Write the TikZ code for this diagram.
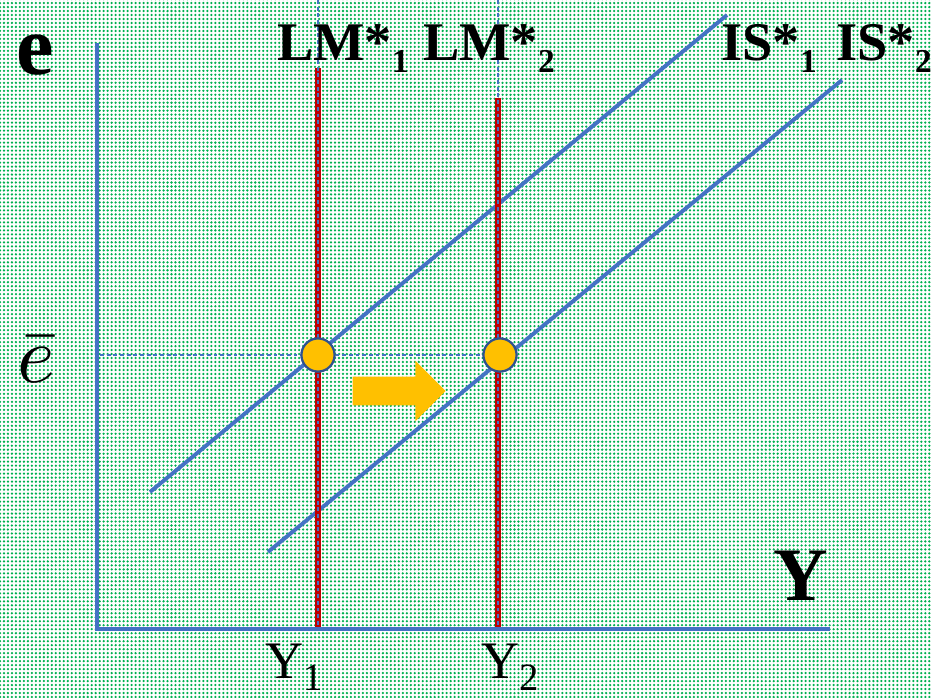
\documentclass[tikz,border=0pt]{standalone}
\usepackage{fontspec}
\setmainfont{Liberation Serif}
\usetikzlibrary{positioning,patterns.meta,shapes.arrows}
\definecolor{axisblue}{HTML}{4472C4}
\definecolor{lmred}{HTML}{C00000}
\definecolor{dotgreen}{HTML}{00B050}
\definecolor{eqyellow}{HTML}{FFC000}
\definecolor{eqedge}{HTML}{2F528F}
\newcommand{\subdn}[3]{\raisebox{#1}{\fontsize{#2}{#2}\selectfont #3}}

\begin{document}
\begin{tikzpicture}[
  x=0.02cm, y=-0.02cm,
  every node/.style={inner sep=0pt, anchor=base},
  axis/.style={draw=axisblue, line width=2.3pt},
  isline/.style={draw=axisblue, line width=2.2pt},
  lmline/.style={draw=lmred, line width=2.9pt},
  guide/.style={draw=axisblue, line width=0.7pt, dash pattern=on 2.2pt off 1.6pt},
  eq/.style={circle, anchor=center, fill=eqyellow, draw=eqedge, line width=1.2pt, minimum size=0.66cm},
  curvelbl/.style={font=\fontsize{31}{34}\selectfont\bfseries}
]
  % dotted background
  \fill[white] (0,0) rectangle (932,697);
  \fill[pattern={Dots[distance=2.27pt,radius=0.72pt]}, pattern color=dotgreen] (0,0) rectangle (932,697);
  \useasboundingbox (0,0) rectangle (932,697);

  \coordinate (O) at (97,629);
  \coordinate (ytop) at (97,43);
  \coordinate (xend) at (830,629);
  \coordinate (ebar) at (100,355);

  % IS* curves
  \coordinate (is1a) at (150,492);
  \coordinate (is1b) at (727,15);
  \coordinate (is2a) at (268,552);
  \coordinate (is2b) at (842,80);
  \draw[isline] (is1a) -- (is1b);
  \draw[isline] (is2a) -- (is2b);

  % LM* curves
  \coordinate (lm1top) at (318,68);
  \coordinate (lm1bot) at (318,627);
  \coordinate (lm2top) at (498,98);
  \coordinate (lm2bot) at (498,627);
  \coordinate (g1top) at (318,0);
  \coordinate (g2top) at (498,0);
  \draw[lmline] (lm1top) -- (lm1bot);
  \draw[lmline] (lm2top) -- (lm2bot);
  \draw[guide] (g1top) -- (318,629);
  \draw[guide] (g2top) -- (498,629);

  \draw[axis] (ytop) -- (O) -- (xend);

  \node[eq] (eq1) at (318,355) {};
  \node[eq] (eq2) at (500,355) {};
  \draw[guide] (ebar) -- (eq1);
  \draw[guide] (eq1) -- (eq2);
  \node[eq] at (eq1) {};
  \node[eq] at (eq2) {};

  \node[single arrow, anchor=center, fill=eqyellow, inner xsep=0pt, inner ysep=0.28cm,
        minimum height=1.86cm, single arrow head extend=0.32cm,
        single arrow tip angle=90] (shift) at (392,391) {};

  % labels
  \node[font=\fontsize{48}{50}\selectfont\bfseries] (elbl) at (35,74) {e};
  \node (ebarlbl) at (36,382) {\scalebox{4.6}{$\bar{e}$}};
  \node[curvelbl] (lm1lbl) at (343,60) {LM*\subdn{-7pt}{19}{1}};
  \node[curvelbl] (lm2lbl) at (489,60) {LM*\subdn{-7pt}{19}{2}};
  \node[curvelbl] (is1lbl) at (769,60) {IS*\subdn{-7pt}{19}{1}};
  \node[curvelbl] (is2lbl) at (884,60) {IS*\subdn{-7pt}{19}{2}};
  \node[font=\fontsize{43}{45}\selectfont\bfseries] (ylbl) at (801,600) {Y};
  \node[font=\fontsize{30}{32}\selectfont] (y1lbl) at (294,678) {Y\subdn{-7pt}{22}{1}};
  \node[font=\fontsize{30}{32}\selectfont] (y2lbl) at (510,678) {Y\subdn{-7pt}{22}{2}};
\end{tikzpicture}
\end{document}
